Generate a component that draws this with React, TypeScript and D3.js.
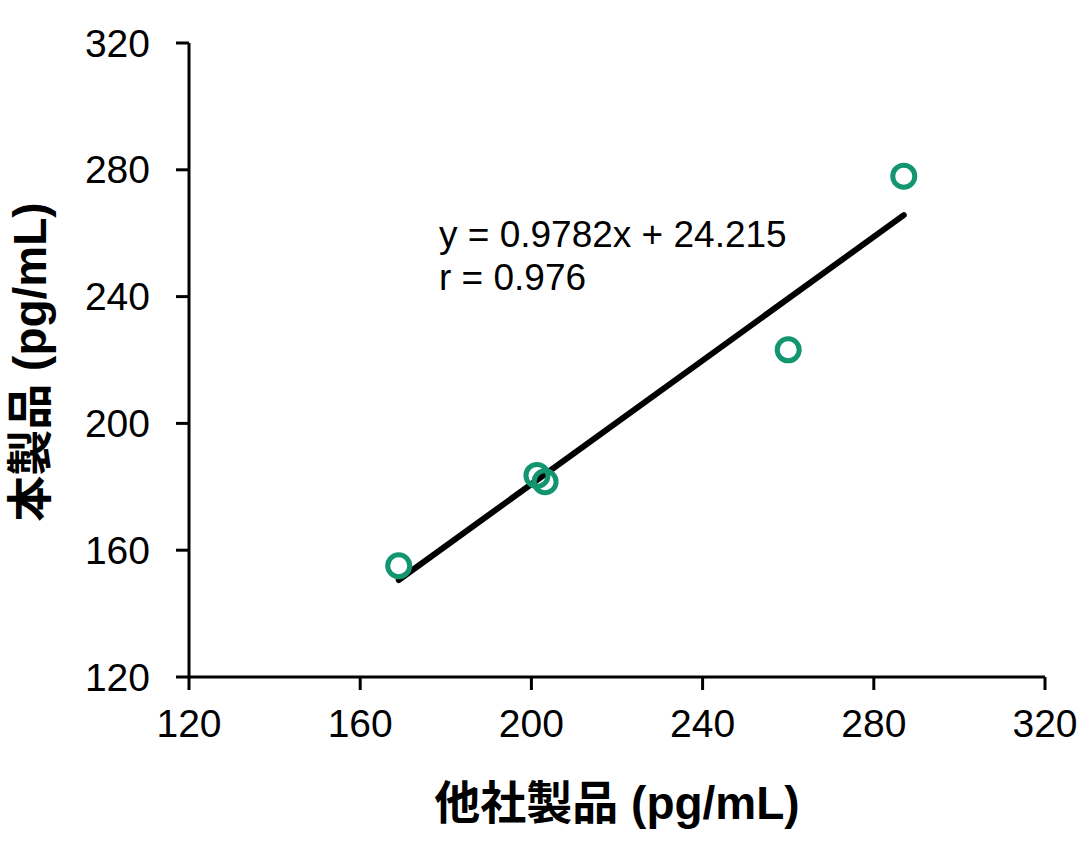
import React from "react";
import * as d3 from "d3";

const xValues = [169, 201.3, 203.2, 260, 287];
const yValues = [155.1, 183.6, 181.6, 223.2, 278];
const trendX = [169, 287];
const trendY = [150.6, 265.7];
const xTicks = [120, 160, 200, 240, 280, 320];
const yTicks = [120, 160, 200, 240, 280, 320];
const equationText = "y = 0.9782x + 24.215";
const rText = "r = 0.976";
const xTitle = "他社製品 (pg/mL)";
const yTitle = "本製品 (pg/mL)";

const W = 1080;
const H = 856;
const FONT = "'Liberation Sans', Arial, 'Noto Sans CJK JP', sans-serif";
const GREEN = "#13966f";

export default function App() {
  const x = d3.scaleLinear().domain([120, 320]).range([189, 1045]);
  const y = d3.scaleLinear().domain([120, 320]).range([677, 43]);
  const line = d3
    .line<number>()
    .x((_, i) => x(trendX[i]))
    .y((d) => y(d));

  return (
    <svg
      width={W}
      height={H}
      style={{ position: "absolute", left: 0, top: 0, background: "#fff" }}
      fontFamily={FONT}
    >
      <rect width={W} height={H} fill="#fff" />
      {/* axes */}
      <line x1={x(120)} x2={x(120)} y1={y(320)} y2={y(120) + 1.5} stroke="#000" strokeWidth={3} />
      <line x1={x(120) - 1.5} x2={x(320)} y1={y(120)} y2={y(120)} stroke="#000" strokeWidth={3} />
      {yTicks.map((t) => (
        <g key={"y" + t}>
          <line x1={x(120) - 13} x2={x(120)} y1={y(t)} y2={y(t)} stroke="#000" strokeWidth={3} />
          <text x={150} y={y(t)} textAnchor="end" dominantBaseline="central" fontSize={39} fill="#000">
            {t}
          </text>
        </g>
      ))}
      {xTicks.map((t) => (
        <g key={"x" + t}>
          <line x1={x(t)} x2={x(t)} y1={y(120)} y2={y(120) + 13} stroke="#000" strokeWidth={3} />
          <text x={x(t)} y={723} textAnchor="middle" dominantBaseline="central" fontSize={39} fill="#000">
            {t}
          </text>
        </g>
      ))}
      {/* trend line */}
      <path d={line(trendY) || ""} fill="none" stroke="#000" strokeWidth={6} strokeLinecap="round" />
      {/* points */}
      {xValues.map((v, i) => (
        <circle key={i} cx={x(v)} cy={y(yValues[i])} r={11} fill="none" stroke={GREEN} strokeWidth={5} />
      ))}
      {/* annotation */}
      <text x={439} y={247} fontSize={37} fill="#000">{equationText}</text>
      <text x={439} y={290} fontSize={37} fill="#000">{rText}</text>
      {/* titles */}
      <text x={617} y={803} textAnchor="middle" dominantBaseline="central" fontSize={46} fontWeight="bold" fill="#000">
        {xTitle}
      </text>
      <text
        transform="translate(30,362) rotate(-90)"
        textAnchor="middle"
        dominantBaseline="central"
        fontSize={46}
        fontWeight="bold"
        fill="#000"
      >
        {yTitle}
      </text>
    </svg>
  );
}
